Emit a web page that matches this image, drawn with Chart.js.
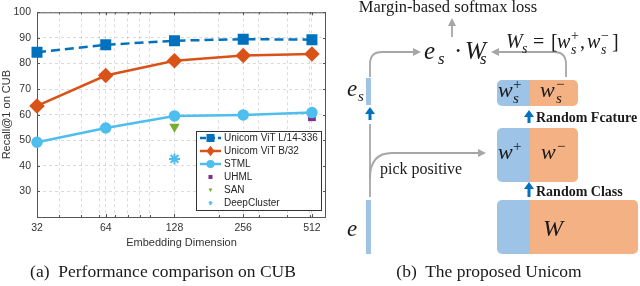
<!DOCTYPE html>
<html>
<head>
<meta charset="utf-8">
<script src="https://cdn.jsdelivr.net/npm/chart.js@4"></script>
<style>
  html, body { margin: 0; padding: 0; background: #fff; }
  #wrap { position: relative; width: 640px; height: 286px; overflow: hidden; }
  #c { position: absolute; left: 0; top: 0; }
  #fig { position: absolute; left: 0; top: 0; }
  .serif { font-family: "Liberation Serif", "DejaVu Serif", serif; }
</style>
</head>
<body>
<div id="wrap">
  <canvas id="c" width="335" height="252"></canvas>
  <svg id="fig" width="640" height="286" xmlns="http://www.w3.org/2000/svg">
    <defs>
      <marker id="ah" markerWidth="8" markerHeight="8" refX="6" refY="4" orient="auto" markerUnits="userSpaceOnUse">
        <path d="M0,0 L8,4 L0,8 Z" fill="#a6a6a6"/>
      </marker>
      <clipPath id="b1"><rect x="497" y="80" width="81" height="26" rx="5"/></clipPath>
      <clipPath id="b2"><rect x="497" y="128" width="81" height="54" rx="5"/></clipPath>
      <clipPath id="b3"><rect x="497" y="200" width="141" height="54" rx="5"/></clipPath>
    </defs>
    <g class="serif" fill="#1a1a1a">
      <text x="448" y="12" font-size="16.5" text-anchor="middle">Margin-based softmax loss</text>

      <!-- gray arrows -->
      <g fill="none" stroke="#a6a6a6" stroke-width="1.8">
        <line x1="452" y1="37" x2="452" y2="20" marker-end="url(#ah)"/>
        <path d="M370,77 L370,64 Q370,52 382,52 L419,52" marker-end="url(#ah)"/>
        <path d="M566,77 L566,64 Q566,52 554,52 L493,52" marker-end="url(#ah)"/>
        <line x1="370" y1="124" x2="370" y2="197"/>
        <path d="M370,178 Q370,153 392,153 L484,153" marker-end="url(#ah)"/>
      </g>

      <!-- e_s . W_s -->
      <text y="59" font-size="25" font-style="italic">
        <tspan x="424">e</tspan><tspan x="438" y="64" font-size="17">s</tspan>
        <tspan x="454" y="59" font-style="normal">·</tspan>
        <tspan x="465" y="59">W</tspan><tspan x="480" y="64" font-size="17">s</tspan>
      </text>

      <!-- W_s = [w_s^+, w_s^-] -->
      <text y="48" font-size="20" font-style="italic">
        <tspan x="506">W</tspan><tspan x="522" y="53" font-size="14">s</tspan>
        <tspan x="533" y="48" font-style="normal">=</tspan>
        <tspan x="551" y="48" font-style="normal">[</tspan>
        <tspan x="557" y="48">w</tspan><tspan x="571" y="40" font-size="14" font-style="normal">+</tspan><tspan x="571" y="54" font-size="14">s</tspan>
        <tspan x="580" y="48" font-style="normal">,</tspan>
        <tspan x="587" y="48">w</tspan><tspan x="601" y="40" font-size="14" font-style="normal">−</tspan><tspan x="601" y="54" font-size="14">s</tspan>
        <tspan x="612" y="48" font-style="normal">]</tspan>
      </text>

      <!-- embedding bars -->
      <rect x="366" y="78" width="5" height="27" fill="#9dc3e6"/>
      <rect x="366" y="200" width="5" height="54" fill="#9dc3e6"/>
      <text y="96" font-size="23" font-style="italic"><tspan x="347">e</tspan><tspan x="358" y="101" font-size="15">s</tspan></text>
      <text x="347" y="236" font-size="23" font-style="italic">e</text>
      <text x="380" y="174" font-size="16">pick positive</text>

      <!-- blue arrows -->
      <g fill="#0070c0" stroke="none">
        <rect x="368.5" y="113" width="3" height="7"/><path d="M365,114 L370,107 L375,114 Z"/>
        <rect x="527.5" y="116" width="3" height="7"/><path d="M524,117 L529,110 L534,117 Z"/>
        <rect x="527.5" y="188" width="3" height="9"/><path d="M524,189 L529,182 L534,189 Z"/>
      </g>
      <text x="536" y="122" font-size="14" font-weight="bold">Random Fcature</text>
      <text x="536" y="196" font-size="14" font-weight="bold">Random Class</text>

      <!-- class boxes -->
      <g clip-path="url(#b1)"><rect x="497" y="80" width="33" height="26" fill="#9dc3e6"/><rect x="530" y="80" width="48" height="26" fill="#f4b183"/></g>
      <g clip-path="url(#b2)"><rect x="497" y="128" width="33" height="54" fill="#9dc3e6"/><rect x="530" y="128" width="48" height="54" fill="#f4b183"/></g>
      <g clip-path="url(#b3)"><rect x="497" y="200" width="33" height="54" fill="#9dc3e6"/><rect x="530" y="200" width="108" height="54" fill="#f4b183"/></g>

      <text y="97" font-size="22" font-style="italic">
        <tspan x="498">w</tspan><tspan x="513" y="89" font-size="15" font-style="normal">+</tspan><tspan x="513" y="103" font-size="15">s</tspan>
        <tspan x="540" y="97">w</tspan><tspan x="556" y="89" font-size="15" font-style="normal">−</tspan><tspan x="556" y="103" font-size="15">s</tspan>
      </text>
      <text y="159" font-size="22" font-style="italic">
        <tspan x="498">w</tspan><tspan x="513" y="151" font-size="15" font-style="normal">+</tspan>
        <tspan x="541" y="159">w</tspan><tspan x="557" y="151" font-size="15" font-style="normal">−</tspan>
      </text>
      <text x="543" y="236" font-size="24" font-style="italic">W</text>

      <!-- captions -->
      <text x="163" y="277" font-size="17.5" text-anchor="middle" xml:space="preserve">(a)  Performance comparison on CUB</text>
      <text x="489" y="277" font-size="17.5" text-anchor="middle" xml:space="preserve">(b)  The proposed Unicom</text>
    </g>
  </svg>
</div>
<script>
// embedding dimensions (log2 x axis)
const dims = [32, 64, 128, 256, 512];
const minorDims = [40, 50, 60, 70, 80, 90, 100, 200, 300, 400, 500];
const yTicks = [20, 30, 40, 50, 60, 70, 80, 90, 100];

// Recall@1 on CUB
const vitL = [84.4, 87.3, 88.9, 89.5, 89.3];   // Unicom ViT L/14-336
const vitB = [63.4, 75.3, 81.1, 83.1, 83.7];   // Unicom ViT B/32
const stml = [49.2, 54.8, 59.5, 59.9, 60.8];   // STML
const uhmlDim = [512], uhmlVal = [59.0];
const sanDim = [128], sanVal = [55.3];
const dcDim = [128], dcVal = [42.7];

const pts = (xs, ys) => xs.map((x, i) => ({ x: x, y: ys[i] }));

const legendItems = [
  { label: 'Unicom ViT L/14-336', color: '#0072bd', marker: 'square', line: true, dash: [6, 3] },
  { label: 'Unicom ViT B/32', color: '#d95319', marker: 'diamond', line: true },
  { label: 'STML', color: '#4dbeee', marker: 'circle', line: true },
  { label: 'UHML', color: '#7e2f8e', marker: 'square', small: true },
  { label: 'SAN', color: '#77ac30', marker: 'tri', small: true },
  { label: 'DeepCluster', color: '#4dbeee', marker: 'star', small: true }
];

function marker(ctx, type, x, y, r, color) {
  ctx.save();
  ctx.fillStyle = color;
  ctx.strokeStyle = color;
  ctx.setLineDash([]);
  ctx.beginPath();
  if (type === 'square') {
    ctx.rect(x - r, y - r, 2 * r, 2 * r);
    ctx.fill();
  } else if (type === 'diamond') {
    ctx.moveTo(x, y - r * 1.3); ctx.lineTo(x + r, y); ctx.lineTo(x, y + r * 1.3); ctx.lineTo(x - r, y);
    ctx.closePath(); ctx.fill();
  } else if (type === 'circle') {
    ctx.arc(x, y, r, 0, Math.PI * 2); ctx.fill();
  } else if (type === 'tri') {
    ctx.moveTo(x - r, y - r * 0.7); ctx.lineTo(x + r, y - r * 0.7); ctx.lineTo(x, y + r);
    ctx.closePath(); ctx.fill();
  } else if (type === 'star') {
    ctx.lineWidth = 1.2;
    for (let k = 0; k < 3; k++) {
      const a = k * Math.PI / 3 + Math.PI / 2;
      ctx.moveTo(x - Math.cos(a) * r, y - Math.sin(a) * r);
      ctx.lineTo(x + Math.cos(a) * r, y + Math.sin(a) * r);
    }
    ctx.stroke();
  }
  ctx.restore();
}

const framePlugin = {
  id: 'frame',
  beforeDatasetsDraw(chart) {
    const { ctx, chartArea: a, scales } = chart;
    ctx.save();
    ctx.strokeStyle = '#555';
    ctx.lineWidth = 1;
    ctx.strokeRect(a.left + 0.5, a.top + 0.5, a.right - a.left - 1, a.bottom - a.top);
    ctx.beginPath();
    scales.x.ticks.forEach(t => {
      const px = Math.round(scales.x.getPixelForValue(t.value)) + 0.5;
      const len = dims.includes(t.value) ? 3 : 2;
      ctx.moveTo(px, a.bottom); ctx.lineTo(px, a.bottom - len);
      ctx.moveTo(px, a.top); ctx.lineTo(px, a.top + len);
    });
    yTicks.forEach(v => {
      const py = Math.round(scales.y.getPixelForValue(v)) + 0.5;
      ctx.moveTo(a.left, py); ctx.lineTo(a.left + 3, py);
      ctx.moveTo(a.right, py); ctx.lineTo(a.right - 3, py);
    });
    ctx.stroke();
    ctx.restore();
  }
};

const legendPlugin = {
  id: 'boxLegend',
  afterDatasetsDraw(chart) {
    const ctx = chart.ctx;
    const bx = 196.5, by = 131.5, bw = 125, bh = 79, row = 13;
    ctx.save();
    ctx.fillStyle = '#fff';
    ctx.fillRect(bx, by, bw, bh);
    ctx.strokeStyle = '#333';
    ctx.lineWidth = 1;
    ctx.strokeRect(bx, by, bw, bh);
    ctx.font = '10px "Liberation Sans", Arial, sans-serif';
    ctx.textBaseline = 'middle';
    legendItems.forEach((it, i) => {
      const cy = by + 6.5 + row * i;
      if (it.line) {
        ctx.strokeStyle = it.color;
        ctx.lineWidth = 2.5;
        ctx.setLineDash(it.dash || []);
        ctx.beginPath(); ctx.moveTo(200, cy); ctx.lineTo(221, cy); ctx.stroke();
        ctx.setLineDash([]);
      }
      marker(ctx, it.marker, 210.5, cy, it.small ? 2 : 4, it.color);
      ctx.fillStyle = '#262626';
      ctx.fillText(it.label, 224, cy + 0.5);
    });
    ctx.restore();
  }
};

const tickFont = { family: '"Liberation Sans", Arial, sans-serif', size: 10.5 };

new Chart(document.getElementById('c'), {
  type: 'line',
  data: {
    datasets: [
      {
        label: 'Unicom ViT L/14-336', data: pts(dims, vitL),
        borderColor: '#0072bd', backgroundColor: '#0072bd', borderWidth: 2.5, borderDash: [9, 5],
        pointStyle: 'rect', pointRadius: 6, pointHoverRadius: 6, clip: false
      },
      {
        label: 'Unicom ViT B/32', data: pts(dims, vitB),
        borderColor: '#d95319', backgroundColor: '#d95319', borderWidth: 2.5,
        pointStyle: 'rectRot', pointRadius: 6, pointHoverRadius: 6, clip: false
      },
      {
        label: 'STML', data: pts(dims, stml),
        borderColor: '#4dbeee', backgroundColor: '#4dbeee', borderWidth: 2.5,
        pointStyle: 'circle', pointRadius: 4.5, pointHoverRadius: 4.5, clip: false
      },
      {
        label: 'UHML', data: pts(uhmlDim, uhmlVal), showLine: false,
        borderColor: '#7e2f8e', backgroundColor: '#7e2f8e', borderWidth: 0,
        pointStyle: 'rect', pointRadius: 5.5, clip: false
      },
      {
        label: 'SAN', data: pts(sanDim, sanVal), showLine: false,
        borderColor: '#77ac30', backgroundColor: '#77ac30', borderWidth: 0,
        pointStyle: 'triangle', pointRotation: 180, pointRadius: 6, clip: false
      },
      {
        label: 'DeepCluster', data: pts(dcDim, dcVal), showLine: false,
        borderColor: '#4dbeee', backgroundColor: '#4dbeee', borderWidth: 2,
        pointStyle: 'star', pointRadius: 5.5, clip: false
      }
    ]
  },
  options: {
    responsive: false,
    animation: false,
    layout: { padding: { top: 12, right: 9, left: 0, bottom: 0 } },
    plugins: { legend: { display: false }, tooltip: { enabled: false } },
    scales: {
      x: {
        type: 'logarithmic', min: 32, max: 590,
        afterBuildTicks: s => {
          s.ticks = dims.concat(minorDims).sort((a, b) => a - b).map(v => ({ value: v }));
        },
        afterFit: s => { s.height = 35; },
        ticks: {
          autoSkip: false, maxRotation: 0, padding: 5, color: '#333', font: tickFont,
          callback: v => dims.includes(v) ? String(v) : ''
        },
        grid: { color: 'rgba(0,0,0,0.14)', drawTicks: false },
        border: { display: false, dash: [3, 3] },
        title: {
          display: true, text: 'Embedding Dimension', color: '#333',
          font: { family: '"Liberation Sans", Arial, sans-serif', size: 11 },
          padding: { top: 0, bottom: 2 }
        }
      },
      y: {
        min: 20, max: 100,
        afterBuildTicks: s => { s.ticks = yTicks.map(v => ({ value: v })); },
        afterFit: s => { s.width = 37; },
        ticks: {
          padding: 6, color: '#333', font: tickFont,
          callback: v => v === 20 ? '' : String(v)
        },
        grid: { color: 'rgba(0,0,0,0.14)', drawTicks: false },
        border: { display: false, dash: [3, 3] },
        title: {
          display: true, text: 'Recall@1 on CUB', color: '#333',
          font: { family: '"Liberation Sans", Arial, sans-serif', size: 11 },
          padding: 0
        }
      }
    }
  },
  plugins: [framePlugin, legendPlugin]
});
</script>
</body>
</html>
